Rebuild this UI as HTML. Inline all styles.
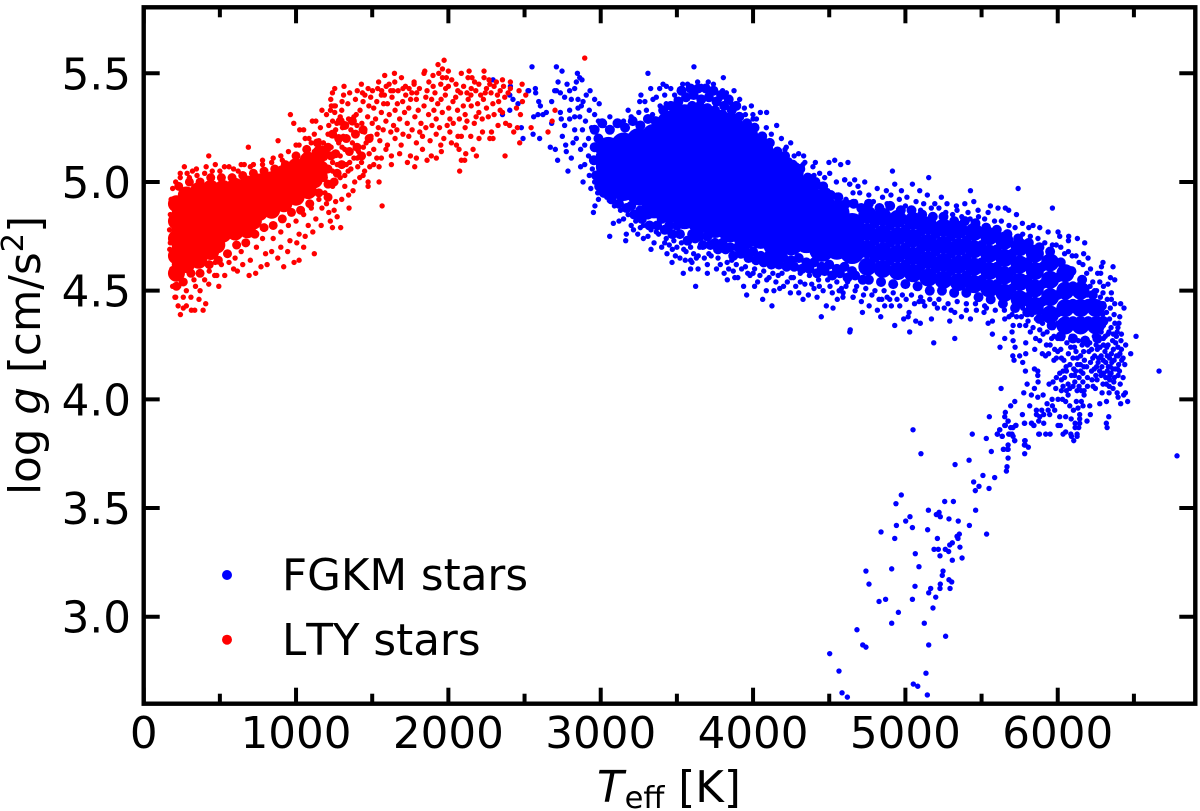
<!DOCTYPE html>
<html lang="en">
<head>
<meta charset="utf-8">
<title>log g vs Teff scatter</title>
<style>
html,body{margin:0;padding:0;background:#fff;}
svg{display:block;}
text{font-family:"DejaVu Sans","Liberation Sans",sans-serif;fill:#000;font-kerning:none;}
</style>
</head>
<body>
<svg id="chart" xmlns="http://www.w3.org/2000/svg" width="1200" height="811" viewBox="0 0 1200 811">
<rect x="0" y="0" width="1200" height="811" fill="#fff"/>
<g id="marks"></g>
<g id="axes"></g>
<text transform="translate(40,495) rotate(-90)" font-size="43.6">log <tspan font-style="italic">g</tspan> [cm/s<tspan font-size="30.5" dy="-17">2</tspan><tspan dy="17">]</tspan></text>
<text x="597" y="802" font-size="43.6"><tspan font-style="italic">T</tspan><tspan font-size="30.5" dy="6" dx="1">eff</tspan><tspan dy="-6"> [K]</tspan></text>
<g>
<circle cx="227" cy="575" r="5" fill="#0000ff"/>
<text x="282" y="590" font-size="43.6">FGKM stars</text>
<circle cx="227" cy="639.7" r="5" fill="#ff0000"/>
<text x="282" y="655" font-size="43.6">LTY stars</text>
</g>
</svg>
<script>
// Tick values
const xMajorTicks = [0,1000,2000,3000,4000,5000,6000];
const xMinorTicks = [500,1500,2500,3500,4500,5500,6500];
const yMajorTicks = [3.0,3.5,4.0,4.5,5.0,5.5];
const yTickLabels = ["3.0","3.5","4.0","4.5","5.0","5.5"];

// FGKM stars as [Teff, log g]
// Densest overplotted regions: each entry stands for a pile of overlapping stars
const fgkmCore = [
[3050,5.15],[3050,5.07],[3050,4.99],
[3150,5.17],[3150,5.09],[3150,5.01],[3150,4.97],
[3250,5.19],[3250,5.11],[3250,5.03],[3250,4.95],
[3350,5.21],[3350,5.13],[3350,5.05],[3350,4.97],[3350,4.89],
[3450,5.27],[3450,5.19],[3450,5.11],[3450,5.03],[3450,4.95],[3450,4.87],
[3550,5.30],[3550,5.22],[3550,5.14],[3550,5.06],[3550,4.98],[3550,4.90],[3550,4.84],
[3650,5.30],[3650,5.22],[3650,5.14],[3650,5.06],[3650,4.98],[3650,4.90],[3650,4.82],
[3750,5.28],[3750,5.20],[3750,5.12],[3750,5.04],[3750,4.96],[3750,4.88],[3750,4.80],
[3850,5.26],[3850,5.18],[3850,5.10],[3850,5.02],[3850,4.94],[3850,4.86],[3850,4.78],
[3950,5.21],[3950,5.13],[3950,5.05],[3950,4.97],[3950,4.89],[3950,4.81],[3950,4.75],
[4050,5.15],[4050,5.07],[4050,4.99],[4050,4.91],[4050,4.83],[4050,4.75],
[4150,5.09],[4150,5.01],[4150,4.93],[4150,4.85],[4150,4.77],[4150,4.71],
[4250,5.04],[4250,4.96],[4250,4.88],[4250,4.80],[4250,4.72],
[4350,4.97],[4350,4.89],[4350,4.81],[4350,4.73],
[4450,4.91],[4450,4.83],[4450,4.75],[4450,4.69],
[4550,4.86],[4550,4.78],[4550,4.70],
[4650,4.80],[4650,4.72],[4650,4.68]
];
const fgkmBand = [
[4750,4.85],[4750,4.77],[4750,4.69],[4750,4.61],
[4850,4.84],[4850,4.76],[4850,4.68],[4850,4.60],
[4950,4.83],[4950,4.75],[4950,4.67],[4950,4.59],
[5050,4.82],[5050,4.74],[5050,4.66],[5050,4.58],
[5150,4.80],[5150,4.72],[5150,4.64],[5150,4.56],
[5250,4.79],[5250,4.71],[5250,4.63],[5250,4.55],
[5350,4.78],[5350,4.70],[5350,4.62],[5350,4.54],
[5450,4.77],[5450,4.69],[5450,4.61],[5450,4.53],
[5550,4.75],[5550,4.67],[5550,4.59],[5550,4.51],
[5650,4.73],[5650,4.65],[5650,4.57],[5650,4.49],
[5750,4.70],[5750,4.62],[5750,4.54],[5750,4.46],
[5850,4.67],[5850,4.59],[5850,4.51],[5850,4.43],
[5950,4.63],[5950,4.55],[5950,4.47],[5950,4.39],
[6050,4.58],[6050,4.50],[6050,4.42],[6050,4.34],
[6150,4.50],[6150,4.42],[6150,4.34],
[6250,4.42],[6250,4.34]
];
// Partly filled clumps at the rim of the dense regions
const fgkmClumps = [
[2960,5.24],[3010,5.27],[3060,5.24],[3110,5.27],[3160,5.25],[3210,5.28],[3260,5.26],[3310,5.29],[3360,5.28],[3410,5.33],[3460,5.35],[3510,5.37],[3560,5.39],[3610,5.40],[3660,5.38],[3710,5.39],[3760,5.37],[3810,5.35],[3860,5.33],[3910,5.30],[3960,5.27],[4010,5.25],[4060,5.21],[4110,5.18],[4160,5.14],[4210,5.12],[4260,5.08],[4310,5.06],[4360,5.02],[4410,5.00],[4460,4.98],[4510,4.94],[4560,4.93],[4610,4.90],[4660,4.90],[4710,4.88],
[2960,5.16],[2955,5.10],[2970,5.03],[2990,4.98],[2985,5.20],[3000,5.12],
[3020,4.95],[3070,4.92],[3120,4.90],[3170,4.88],[3220,4.85],[3270,4.83],[3320,4.80],[3370,4.80],[3420,4.78],[3470,4.76],[3520,4.76],[3570,4.73],[3620,4.74],[3670,4.71],[3720,4.71],[3770,4.69],[3820,4.69],[3870,4.66],[3920,4.67],[3970,4.65],[4020,4.64],[4070,4.63],[4120,4.62],[4170,4.62],[4220,4.61],[4270,4.61],[4320,4.60],[4370,4.60],[4420,4.58],[4470,4.59],[4520,4.57],[4570,4.58],[4620,4.56],[4670,4.57],[4720,4.55],
[4760,4.90],[4830,4.88],[4900,4.89],[4970,4.87],[5040,4.87],[5110,4.85],[5180,4.84],[5250,4.84],[5320,4.82],[5390,4.82],[5460,4.81],[5530,4.79],[5600,4.78],[5670,4.76],[5740,4.74],[5810,4.72],[5880,4.70],[5950,4.68],[6020,4.63],[6090,4.59],[6160,4.55],[6230,4.48],[6290,4.43],
[4800,4.81],[4800,4.73],[4800,4.65],[4900,4.80],[4900,4.72],[4900,4.64],[5000,4.78],[5000,4.70],[5000,4.62],[5100,4.77],[5100,4.69],[5100,4.61],[5200,4.76],[5200,4.68],[5200,4.60],[5300,4.75],[5300,4.67],[5300,4.59],[5400,4.73],[5400,4.65],[5400,4.57],[5500,4.71],[5500,4.63],[5500,4.55],[5600,4.69],[5600,4.61],[5600,4.53],[5700,4.67],[5700,4.59],[5700,4.51],[5800,4.63],[5800,4.55],[5800,4.47],[5900,4.61],[5900,4.53],[5900,4.45],[6000,4.56],[6000,4.48],[6000,4.40],[6100,4.52],[6100,4.44],[6100,4.36],[6200,4.44],[6200,4.36],[6300,4.36],
[4760,4.55],[4840,4.54],[4920,4.53],[5000,4.53],[5080,4.52],[5160,4.50],[5240,4.50],[5320,4.49],[5400,4.49],[5480,4.47],[5560,4.46],[5640,4.44],[5720,4.42],[5800,4.40],[5880,4.37],[5960,4.34],[6020,4.29],[6100,4.28],[6180,4.27],[6260,4.28]
];
const fgkmRimFill = [
[3500,5.33],[3600,5.35],[3650,5.35],[3700,5.34],[3750,5.33],[3800,5.31],[3850,5.30],[3900,5.27],[3950,5.26],[4000,5.22],[4050,5.19],[4100,5.15],[4150,5.12],[4200,5.08],[4250,5.05],[4300,5.02],[4350,4.99],[4400,4.96],[4450,4.93],[4500,4.91],[4550,4.89],[4600,4.86],
[3530,5.42],[3590,5.43],[3640,5.43],[3690,5.43],[3740,5.42],[3790,5.40],[3840,5.38],[3890,5.35],
[3200,4.89],[3260,4.87],[3310,4.85],[3400,4.83],[3450,4.80],[3500,4.80],[3600,4.76],[3650,4.75],[3700,4.75],[3750,4.72],[3800,4.72],[3850,4.70],[3900,4.70],[3950,4.68],[4000,4.68],[4050,4.66],[4100,4.66],[4150,4.64],[4200,4.65],[4250,4.64],[4300,4.65],[4350,4.63],[4400,4.63],[4450,4.61],[4500,4.62],[4550,4.60],[4600,4.61],[4650,4.59]
];
const fgkmLowerFuzz = [
[3150,4.83],[3215,4.78],[3260,4.79],[3310,4.75],[3365,4.77],[3420,4.72],[3450,4.71],[3500,4.70],[3545,4.69],[3610,4.67],[3680,4.65],[3725,4.66],[3785,4.62],[3840,4.60],[3860,4.64],[3925,4.60],[3965,4.58],[4000,4.58],[4045,4.57],[4105,4.56],[4165,4.57],[4225,4.54],[4265,4.56],[4310,4.54],[4385,4.53],[4435,4.52],[4505,4.52],[4565,4.50],[4610,4.52],[4670,4.50],[4725,4.48],[4780,4.48],[4845,4.46],[4880,4.47],[4945,4.46],[5005,4.46],[5060,4.44],[5115,4.45],[5190,4.44],[5255,4.42],[5300,4.41],[3330,4.69],[3490,4.66],[3590,4.64],[3700,4.58],[3880,4.56],[4010,4.52],[4175,4.51],[4300,4.49],[4420,4.47],[4590,4.47]
];
const fgkmGiantBranch = [
[5050,3.86],[5102,3.75],[5326,3.70],[5418,3.72],[5439,3.84],[5531,3.82],[5564,3.76],[5603,3.84],[5636,3.83],[5619,3.86],[5652,3.88],[5674,3.90],[5706,3.87],[5726,3.88],[5678,3.84],[5700,3.84],[5717,3.81],[5674,3.79],[5645,3.77],[5674,3.77],[5674,3.73],[5667,3.69],[5663,3.67],[5783,3.81],[5781,3.79],[5807,3.78],[5783,3.75],[5781,3.89],[5829,3.89],[5844,3.88],[5875,3.84],[5509,3.65],[5586,3.64],[5448,3.62],[5483,3.60],[5459,3.58],[5549,3.59],[4973,3.56],[4938,3.52],[5258,3.53],[5315,3.53],[5151,3.49],[5221,3.48],[5203,3.47],[5229,3.46],[5461,3.49],[5286,3.45],[5347,3.44],[5030,3.46],[5002,3.44],[4941,3.42],[5046,3.41],[4840,3.39],[4930,3.36],[5146,3.40],[5420,3.42],[5533,3.38],[5210,3.36],[5354,3.38],[5339,3.37],[5345,3.36],[5308,3.34],[5291,3.33],[5358,3.32],[5188,3.31],[5216,3.31],[5262,3.31],[5284,3.30],[5065,3.29],[5227,3.28],[5308,3.26],[5372,3.27],[5089,3.23],[4910,3.22],[4741,3.21],[5247,3.21],[5242,3.19],[5286,3.17],[5304,3.16],[4761,3.15],[5229,3.15],[5063,3.14],[5166,3.13],[5227,3.13],[5293,3.13],[5153,3.11],[5199,3.09],[4870,3.08],[4827,3.07],[5046,3.08],[5181,3.04],[4954,3.02],[4910,2.97],[5124,2.97],[4682,2.94],[5264,2.91],[4720,2.87],[4741,2.86],[5153,2.87],[4503,2.83],[4564,2.75],[5135,2.74],[5052,2.69],[5081,2.68],[4584,2.65],[4619,2.63],[5144,2.64]
];
const fgkmSubgiants = [
[6783,3.74],[6665,4.13],[6514,4.29],[6479,4.21],[5740,4.97],[5965,4.88],[5427,4.96],[5153,5.02],[4915,5.05],[4635,4.31],[5186,4.26],[5324,4.28],[5028,4.31],[5628,4.05],[5551,3.92],[5656,3.94],[5652,3.92],[5691,3.97],[5718,3.99],[5674,3.90],[5656,3.88],[5691,3.87],[5724,3.88],[5619,3.86],[5604,3.84],[5635,3.83],[5685,3.84],[5707,3.83],[5718,3.81],[5643,3.77],[5670,3.77],[5786,3.81],[5786,3.79],[5768,3.93],[5783,3.89],[5827,3.89],[5842,3.88],[5816,3.97],[5860,3.95],[5860,3.93],[5895,3.95],[5908,3.93],[5882,3.92],[5875,3.90],[5908,3.89],[5880,3.84],[5921,3.84],[5950,3.84],[5930,3.98],[5965,3.97],[5937,3.95],[5947,3.93],[5980,3.95],[6013,3.92],[6052,3.92],[6088,3.91],[6002,3.88],[6017,3.88],[6035,3.84],[6052,3.85],[6086,3.84],[6090,3.83],[6105,3.81],[6127,3.84],[6127,3.83],[6114,3.89],[6114,3.87],[6144,3.89],[6138,3.87],[6144,3.91],[6144,3.93],[6192,3.90],[6214,3.93],[6319,3.89],[6324,3.87],[6335,3.92],[6079,3.97],[6103,3.95],[6133,3.96],[6166,3.97],[6210,3.97],[6276,3.98],[6320,3.99],[6413,3.98],[6459,3.99],[5963,4.00],[6002,4.00],[6031,4.00],[6052,3.99],[6122,3.99],[6155,3.99],[6127,4.04],[6155,4.04],[6173,4.02],[6173,4.04],[5777,4.03],[5827,4.02],[5847,4.05],[5869,4.01],[5904,4.02],[5871,4.08],[5799,4.07],[5869,4.11],[5869,4.13],[5847,4.14],[5788,4.13],[5943,4.07],[5987,4.05],[5969,4.08],[5991,4.10],[6013,4.12],[6035,4.13],[6057,4.13],[6024,4.09],[6024,4.04],[6035,4.06],[6068,4.07],[6079,4.05],[6057,4.04],[6100,4.06],[6068,4.02],[6232,4.06],[6247,4.05],[6291,4.03],[6337,4.03],[6363,4.05],[6390,4.03],[6396,4.01],[6433,4.02],[6444,4.03],[6429,4.10],[6258,4.09],[6297,4.07],[6319,4.07],[6341,4.09],[6396,4.11]
];
const fgkmTurnoffCluster = [
[6030,4.28],[6060,4.26],[6090,4.29],[6110,4.24],[6135,4.27],[6160,4.25],[6180,4.28],[6210,4.26],[6240,4.29],[6270,4.27],[6300,4.28],[6330,4.30],[6360,4.27],[6390,4.31],
[6070,4.21],[6100,4.19],[6120,4.22],[6150,4.20],[6175,4.18],[6205,4.22],[6230,4.19],[6260,4.23],[6285,4.20],[6310,4.22],[6340,4.19],[6365,4.23],[6395,4.24],[6415,4.27],
[6080,4.16],[6105,4.14],[6130,4.16],[6150,4.13],[6190,4.15],[6215,4.17],[6240,4.14],[6265,4.17],[6290,4.15],[6315,4.17],[6345,4.15],[6370,4.18],[6400,4.16],[6420,4.18],
[6110,4.11],[6140,4.10],[6165,4.12],[6195,4.10],[6250,4.11],[6275,4.13],[6300,4.12],[6325,4.13],[6350,4.12],[6378,4.14],[6405,4.13],
[6330,4.25],[6350,4.33],[6375,4.35],[6340,4.37],[6395,4.33],[6300,4.34],[6320,4.40],[6345,4.42],[6370,4.39],[6300,4.44],[6325,4.46],[6280,4.47],[6300,4.52],[6255,4.50],[6230,4.54],[6262,4.58],[6215,4.60],[6190,4.58],[6165,4.62],[6140,4.63],[6120,4.66],[6095,4.66],[6070,4.68],[6045,4.67],[6020,4.70],[5990,4.71],
[6020,4.23],[6000,4.28],[6040,4.18],[5960,4.28],[5930,4.31],[5970,4.33],[5900,4.35],[5860,4.37],[5830,4.39],[5880,4.40],[5800,4.41],[5770,4.42],[5820,4.43],
[6322,4.24],[6352,4.21],[6380,4.26],[6408,4.21],[6336,4.31],[6365,4.30],[6312,4.29],[6285,4.31],[6255,4.32],[6272,4.37],[6295,4.39],[6248,4.40],[6268,4.43],[6225,4.46],[6242,4.50],[6212,4.52],[6180,4.52],[6192,4.48],
[6085,4.24],[6128,4.19],[6170,4.22],[6195,4.25],[6222,4.23],[6252,4.25],[6278,4.24],[6300,4.25],[6242,4.20],[6268,4.19],[6298,4.18],[6325,4.20],[6355,4.17],[6385,4.20],[6332,4.15],[6362,4.14],[6392,4.14],[6222,4.13],[6255,4.15],[6285,4.11],[6315,4.10],[6342,4.11],[6372,4.10],[6148,4.16],[6172,4.15],[6118,4.13],[6090,4.11],[6112,4.08],[6140,4.06],[6165,4.08],[6195,4.06],[6225,4.09],[6338,4.06],[6368,4.08],[6410,4.07],
[6000,4.35],[6030,4.32],[5975,4.29],[5950,4.25],[6000,4.22],[5940,4.21],[5975,4.18],[5920,4.20],[6055,4.15],[6045,4.10],[5855,4.28],[5820,4.31],[5790,4.34],[5730,4.38],[5680,4.38]
];
const fgkmBandUpper = [
[4602,5.01],[4667,5.01],[4733,5.00],[4635,4.99],[4930,4.99],[5046,4.99],[4875,4.96],[4974,4.96],[5094,4.96],[5144,4.94],[5236,4.93],[5449,4.91],[5390,4.90],[5335,4.89],[5273,4.90],[5193,4.90],[5558,4.89],[5608,4.88],[5656,4.88],[5678,4.87],[5729,4.85],[5543,4.86],[5477,4.87],[5411,4.86],[5339,4.87],[5768,4.81],[5838,4.80],[5810,4.79],[5882,4.79],[5937,4.77],[6002,4.77],[6013,4.75],[6072,4.75],[6129,4.74],[6070,4.73],[6177,4.72],[6170,4.67],[6199,4.65],[6297,4.63],[6287,4.61],[6363,4.61],[6282,4.58],[6346,4.56],[6374,4.55],[6330,4.53],[6276,4.54],[6352,4.49],[6297,4.49],[6413,4.44],[6435,4.42],[6352,4.46],[6374,4.44],[6407,4.38],[6402,4.35],[6418,4.30],[6385,4.29],[6446,4.25],[6418,4.23],[6440,4.16],[6429,4.19],[6396,4.20],
[4700,4.95],[4760,4.94],[4815,4.97],[4850,4.93],[4905,4.94],[4960,4.92],[5010,4.93],[5070,4.91],[5120,4.90],[5170,4.88],[5220,4.88],[5265,4.86],[5310,4.85],[5370,4.84],[5425,4.83],[5480,4.84],[5520,4.83],[5585,4.82],[5630,4.82],[5680,4.80],[5720,4.79],[5770,4.76],[5820,4.75],[5870,4.74],[5915,4.72],[5965,4.71],[4790,4.91],[4880,4.90],[5000,4.89],[5100,4.87]
];
const fgkmBandLower = [
[4591,4.49],[4657,4.47],[4711,4.45],[4718,4.40],[4762,4.43],[4816,4.41],[4838,4.38],[4827,4.46],[4897,4.46],[4864,4.43],[4908,4.43],[4930,4.34],[4989,4.37],[5024,4.40],[5018,4.38],[5068,4.36],[5098,4.35],[4963,4.43],[5090,4.45],[5127,4.43],[5171,4.37],[5210,4.42],[5291,4.36],[5324,4.40],[5368,4.38],[5427,4.37],[5400,4.41],[5466,4.41],[5532,4.42],[5516,4.40],[5543,4.35],[5571,4.36],[5571,4.30],[5652,4.37],[5652,4.28],[5621,4.24],[5707,4.27],[5700,4.31],[5720,4.24],[5705,4.20],[5750,4.20],[5713,4.18],[5770,4.17],[5790,4.21],[5899,4.21],[5849,4.23],[5790,4.26],[5882,4.27],[5707,4.34],[5750,4.34],[5761,4.38],[5805,4.36],[5838,4.33],[5882,4.32],[5904,4.30],[5926,4.25],[5980,4.23],[5991,4.19],[6024,4.19],
[4620,4.54],[4680,4.52],[4740,4.51],[4800,4.50],[4860,4.50],[4920,4.49],[4980,4.48],[5040,4.48],[5100,4.47],[5160,4.46],[5220,4.46],[5280,4.44],[5340,4.45],[5400,4.44],[5460,4.44],[5520,4.43],[5590,4.41],[5650,4.41],[5700,4.39]
];
const fgkmCoreEdge = [
[2549,5.53],[2709,5.53],[2746,5.51],[2847,5.50],[2862,5.48],[2840,5.46],[2877,5.47],[2720,5.46],[2779,5.45],[2523,5.42],[2571,5.43],[2573,5.41],[2593,5.37],[2604,5.35],[2678,5.37],[2643,5.32],[2621,5.31],[2588,5.31],[2560,5.30],[2709,5.42],[2698,5.42],[2735,5.41],[2796,5.42],[2829,5.43],[2763,5.39],[2807,5.38],[2851,5.38],[2884,5.37],[2735,5.32],[2796,5.33],[2851,5.34],[2873,5.35],[2741,5.29],[2796,5.29],[2829,5.30],[2862,5.30],[2763,5.26],[2748,5.21],[2829,5.24],[2840,5.20],[2770,5.17],[2774,5.14],[2818,5.18],[2868,5.15],[2669,5.16],[2702,5.15],[2717,5.10],[2807,5.11],[2785,5.05],[2868,5.07],[2895,5.08],[2884,5.00],[2479,5.25],[2556,5.22],[2599,5.20],[2490,5.20],[2678,5.27],[2293,5.47],[2407,5.44],[2424,5.38],[2403,5.40],[2457,5.36],[2355,5.31],[2403,5.33],[2527,5.42],
[2930,5.42],[2960,5.38],[2905,5.40],[2990,5.36],[2925,5.33],[2960,5.31],[2900,5.28],[2940,5.25],[2985,5.28],[2880,5.24],[2920,5.20],[2960,5.17],[2895,5.17],[2920,5.12],[2945,5.06],[2960,5.00],[2925,5.03],[2980,4.95],[2985,4.92],[2935,4.97],
[2962,4.89],[2952,4.86],[3083,4.81],[3059,4.75],[3168,4.76],[3164,4.73],[3243,4.76],[3435,4.67],[3468,4.63],[3520,4.65],[3555,4.64],[3599,4.63],[3628,4.65],[3639,4.60],[3542,4.58],[3590,4.60],[3623,4.52],[3831,4.55],[3938,4.52],[3958,4.48],[4063,4.46],[4124,4.43],[4137,4.50],[4087,4.50],[4245,4.49],[4328,4.46],[4363,4.48],[4448,4.38],[4481,4.43],[4525,4.42],[4553,4.46],[4656,4.47],[4638,4.32],
[3612,5.53],[3310,5.50],[3805,5.48],[3636,5.46],[3706,5.46],[3538,5.45],[3584,5.44],[3409,5.45],[3431,5.44],[3387,5.43],[3328,5.43],[3264,5.40],[3365,5.39],[3256,5.37],[3343,5.38],[3485,5.40],[3496,5.38],[3540,5.42],[3752,5.42],[3825,5.41],[3875,5.42],[3912,5.38],[3857,5.36],[3781,5.38],[3943,5.34],[3989,5.35],[4048,5.32],[4089,5.32],[3999,5.31],[4022,5.29],[4155,5.26],[4087,5.25],[4186,5.20],[4247,5.18],[4218,5.16],[4299,5.13],[4332,5.12],[4328,5.08],[4409,5.09],[4393,5.07],[4498,5.09],[4536,5.10],[4575,5.08],[4623,5.09],[4354,5.03],[4437,5.04],[4503,5.04],[4547,5.00],[4601,5.01],[4634,4.99],[4689,4.98],[4656,4.95],
[3060,5.30],[3100,5.27],[3020,5.26],[3150,5.28],[3200,5.30],[3250,5.32],[3300,5.33],[3340,5.31],[3390,5.35],[3430,5.36],[3470,5.33],
[3000,4.99],[3040,4.93],[3090,4.89],[3130,4.87],[3180,4.85],[3230,4.82],[3280,4.80],[3330,4.78],[3380,4.76],[3430,4.74],[3480,4.73],[3530,4.72],[3590,4.70],[3650,4.70],[3710,4.67],[3770,4.65],[3830,4.63],[3890,4.62],[3950,4.61],[4010,4.60],[4070,4.59],[4130,4.58],[4190,4.58],[4250,4.56],[4310,4.58],[4370,4.57],[4430,4.55],[4490,4.55],[4550,4.54],
[4180,5.12],[4240,5.10],[4300,5.07],[4360,4.99],[4430,4.98],[4490,4.96],[4550,4.94],[4610,4.92],[4670,4.91],
[3120,4.82],[3200,4.80],[3280,4.74],[3350,4.72],[3400,4.70],[3470,4.69],[3560,4.68],[3640,4.66],[3700,4.62],[3760,4.60],[3810,4.58],[3870,4.59],[3900,4.56],[3980,4.57],[4030,4.54],[4090,4.55],[4150,4.54],[4200,4.52],[4280,4.52],[4340,4.53],[4400,4.51],[4460,4.50],[4520,4.49],[4580,4.51],
[3180,5.33],[3290,5.37],[3420,5.40],[3460,5.43],[3570,5.45],[3660,5.44],[3740,5.45],[3800,5.42],[3950,5.31],[4000,5.29],[4120,5.22],[4210,5.15],[4270,5.12],[4340,5.09],[4400,5.03],[4470,5.02]
];

// LTY stars as [Teff, log g]
const ltyCore = [
[215,4.90],[215,4.82],[215,4.74],[215,4.66],[215,4.58],
[280,4.94],[280,4.86],[280,4.78],[280,4.70],[280,4.62],
[360,4.96],[360,4.88],[360,4.80],[360,4.72],[360,4.64],
[440,4.97],[440,4.90],[440,4.82],[440,4.74],[440,4.68],
[520,4.97],[520,4.90],[520,4.83],[520,4.76],
[600,4.98],[600,4.91],[600,4.84],[600,4.77],
[680,4.99],[680,4.92],[680,4.85],[680,4.78],
[760,5.00],[760,4.93],[760,4.86],
[840,5.01],[840,4.94],[840,4.87],
[920,5.04],[920,4.97],[920,4.90],
[1000,5.07],[1000,5.00],[1000,4.93],
[1080,5.10],[1080,5.03],[1080,4.96],
[1160,5.13],[1160,5.06],
[240,4.86],[240,4.78],[240,4.70],[240,4.62],[320,4.90],[320,4.82],[320,4.74],[320,4.66],[400,4.92],[400,4.84],[400,4.76],[400,4.68],[480,4.93],[480,4.86],[480,4.78],[480,4.71],[560,4.94],[560,4.87],[560,4.80],[640,4.95],[640,4.88],[640,4.81],[720,4.96],[720,4.89],[720,4.82],[800,4.97],[800,4.90],[880,5.00],[880,4.93],[960,5.02],[960,4.95],[1040,5.05],[1040,4.98],[1120,5.08],[1120,5.01]
];
const ltyClumps = [
[230,4.98],[300,5.00],[370,5.00],[440,5.02],[510,5.02],[580,5.02],[650,5.03],[720,5.04],[790,5.05],[860,5.06],[930,5.08],[1000,5.12],[1070,5.15],[1140,5.18],[1210,5.16],
[215,4.52],[260,4.54],[310,4.58],[370,4.58],[430,4.62],[490,4.64],[550,4.67],[610,4.71],[670,4.72],[730,4.76],[790,4.79],[850,4.80],[910,4.83],[970,4.86],[1030,4.87],[1090,4.90],[1150,4.95],[1210,4.99],[1270,5.04],
[1230,5.12],[1280,5.20],[1300,5.08],[1350,5.14],[1390,5.22],[1240,5.22],[1320,5.26],
[1210,5.06],[1260,5.13],[1180,5.02],[1330,5.20],[1400,5.16],[1440,5.24],[1370,5.28],[1290,5.28],[1480,5.20],[1430,5.12],[1210,4.93],[1250,5.00]
];
const ltyEdge = [
[2895,5.57],[1972,5.56],[1932,5.54],[1961,5.52],[2000,5.51],[1845,5.51],[1840,5.50],[1899,5.49],[1937,5.50],[1961,5.48],[1987,5.48],[2085,5.50],[2136,5.51],[2234,5.51],[2234,5.48],[2129,5.48],[2155,5.48],[2355,5.47],[2315,5.46],[2267,5.47],[1646,5.50],[1582,5.49],[1692,5.48],[1648,5.46],[1611,5.45],[1775,5.46],[1775,5.45],[1718,5.44],[1702,5.43],[1429,5.45],[1473,5.43],[1436,5.41],[1536,5.43],[1562,5.42],[1560,5.40],[1637,5.42],[1315,5.44],[1254,5.43],[1239,5.41],[1228,5.38],[1302,5.37],[1232,5.35],[1258,5.35],[1226,5.33],[1254,5.32],[963,5.31],[985,5.27],[1107,5.28],[1024,5.24],[882,5.19],[687,5.16],[427,5.12],[267,5.07],[346,5.06],[285,5.04],[1565,4.89],[1545,5.00],[1293,4.79],[1239,4.79],[1348,4.88],[1250,4.87],[1120,4.67],[1020,4.64],[987,4.63],[919,4.61],[735,4.58],[692,4.57],[615,4.59],[532,4.57],[241,4.39],[390,4.41],[407,4.44],[313,4.41],[335,4.41],[226,4.43],[280,4.43],[363,4.46],[493,4.52],[427,4.53],[466,4.57],[171,4.69],[182,4.66],[2074,5.05],[2372,5.12],[2184,5.12],[2162,5.15],[2085,5.10],[2107,5.10],[2114,5.13],[2468,5.18],[2429,5.23],[2453,5.25],[2543,5.25],[2654,5.23],[2681,5.28],[2700,5.33],[2484,5.45],[2407,5.46],[2407,5.43],[2464,5.42],[2508,5.40],[2486,5.37],[2447,5.34],[2473,5.31],[2355,5.32],[2376,5.27],[2402,5.26],[2326,5.26],[2283,5.23],[2293,5.20],[2272,5.20],[2201,5.20],[2224,5.23],[2147,5.21],[2063,5.21],[2085,5.21],[2053,5.17],[2070,5.15],[1954,5.14],[1921,5.11],[1888,5.12],[1860,5.10],[1790,5.11],[1779,5.07],[1731,5.09],[1751,5.12],[1626,5.08],[1545,5.07],[1560,5.11],[1626,5.12],[1484,5.07],[1440,5.03],[1385,5.00],[1418,5.02],[1473,5.00],[1473,4.98],[1374,4.96],[1342,5.05]
];
const ltyUpperArc = [
[1240,5.28],[1290,5.30],[1330,5.26],[1380,5.30],[1420,5.33],[1470,5.30],[1510,5.34],[1560,5.32],[1600,5.36],[1650,5.33],[1700,5.37],[1740,5.34],[1790,5.38],[1840,5.35],[1890,5.38],[1930,5.36],[1980,5.40],[2030,5.37],[2080,5.41],[2130,5.38],[2180,5.42],[2230,5.38],[2280,5.41],[2330,5.37],[2370,5.39],
[1210,5.22],[1260,5.24],[1310,5.21],[1360,5.24],[1400,5.26],[1450,5.23],[1500,5.27],[1540,5.25],[1590,5.28],[1640,5.26],[1680,5.29],[1730,5.27],[1780,5.30],[1820,5.27],[1870,5.31],[1920,5.29],[1960,5.32],[2010,5.29],[2060,5.33],[2110,5.31],[2150,5.35],[2200,5.32],[2250,5.34],[2300,5.31],[2340,5.33],
[1180,5.18],[1230,5.16],[1280,5.18],[1320,5.15],[1370,5.18],[1410,5.14],[1460,5.18],[1510,5.15],[1550,5.19],[1600,5.17],[1650,5.20],[1690,5.17],[1740,5.21],[1790,5.18],[1830,5.21],[1880,5.19],[1920,5.22],[1970,5.20],[2010,5.23],[2110,5.25],[2170,5.27],
[1150,5.19],[1120,5.22],[1160,5.25],[1200,5.31],[1250,5.35],[1300,5.33],[1340,5.36],[1390,5.38],[1440,5.37],[1490,5.39],[1530,5.37],[1580,5.40],[1630,5.39],[1670,5.42],[1720,5.40],[1760,5.41],[1810,5.43],[1860,5.42],[1900,5.44],[1950,5.45],[2000,5.44],[2050,5.45],[2100,5.44],[2150,5.43],[2200,5.45],[2250,5.43],[2300,5.44],[2340,5.42],
[1190,5.11],[1240,5.09],[1290,5.12],[1330,5.08],[1380,5.11],[1430,5.09],[1480,5.13],[1530,5.11],[1590,5.15],[1680,5.13],[1830,5.15],[1950,5.17],[2020,5.18],
[1190,5.03],[1240,5.05],[1290,5.02],[1320,4.98],[1240,4.98],[1190,4.95],[1150,4.92],[1200,4.90],[1100,4.88],[1050,4.85],[1130,4.83],[1080,4.80],[1000,4.82],[950,4.80],[1020,4.76],[960,4.73],[900,4.77],[850,4.74],[900,4.70],[840,4.68],[780,4.74],[800,4.67],[740,4.70],[700,4.64],[640,4.68],[600,4.65],[560,4.63],[510,4.62],[470,4.63],[400,4.55],[340,4.52],[280,4.50],[230,4.52],[260,4.47],
[1215,5.26],[1268,5.27],[1305,5.25],[1345,5.29],[1395,5.31],[1432,5.27],[1478,5.35],[1522,5.29],[1575,5.36],[1612,5.31],[1665,5.36],[1712,5.32],[1752,5.38],[1802,5.33],[1852,5.39],[1905,5.33],[1952,5.38],[2002,5.34],[2048,5.39],[2098,5.35],[2148,5.40],[2192,5.36],[2242,5.41],[2292,5.36],
[1172,5.14],[1212,5.13],[1262,5.13],[1302,5.16],[1352,5.09],[1402,5.11],[1442,5.16],[1492,5.21],[1532,5.22],[1572,5.24],[1622,5.23],[1662,5.24],[1702,5.22],[1762,5.24],[1812,5.23],[1852,5.25],[1892,5.26],[1942,5.25],[1992,5.26],[2032,5.27],[2072,5.29],[2122,5.28],[2182,5.30],[2222,5.29],[2262,5.30],
[1312,5.40],[1352,5.41],[1402,5.42],[1452,5.40],[1502,5.42],[1542,5.46],[1592,5.44],[1622,5.42],[1742,5.43],[1792,5.41],[1872,5.46],[1912,5.41],[1982,5.43],[2022,5.47],[2062,5.42],[2122,5.41],[2172,5.46],[2212,5.40],[2272,5.45],[2322,5.40],[2362,5.44],[2392,5.41],
[1120,5.14],[1090,5.12],[1140,5.10],[1070,5.08],[1220,5.06],[1270,5.08],[1320,5.03],[1360,5.06],[1405,5.07],[1450,5.05],[1510,5.08],[1345,4.94],[1300,4.92],[1260,4.91],[1215,4.86],[1170,4.88],[1270,4.84],[1225,4.82],[1165,4.80],[1110,4.77],[1060,4.75],[1005,4.72],[1050,4.70],[945,4.68],[880,4.65],[810,4.62],[770,4.61],[650,4.62],[590,4.60],[480,4.57],[430,4.59],[370,4.50],[310,4.47],[260,4.42],[210,4.47],[330,4.55],
[910,5.10],[840,5.09],[780,5.08],[700,5.07],[640,5.08],[590,5.06],[530,5.07],[470,5.08],[410,5.07],[320,5.05],[240,5.04],[1000,5.17],[1050,5.24],[1085,5.20],[1130,5.28],[1170,5.33]
];
const ltyLeftEdge = [
[170,4.78],[175,4.85],[180,4.92],[190,4.97],[210,5.00],[240,5.02],[300,5.02],[350,5.03],[400,5.04],[450,5.05],[500,5.05],[560,5.07],[620,5.05],[660,5.08],[720,5.08],[780,5.10],[850,5.11],[900,5.12],[950,5.14],[1020,5.17],[1060,5.20],[1100,5.18],[185,4.60],[190,4.52],[205,4.47],[175,4.72]
];

// Axis scale functions
const xLeft = 143.7, xPerKelvin = 0.15234;
const yAtTop = 73.3, yTopValue = 5.5, yPerDex = 217.36;
const frameLeft = 143.7, frameRight = 1195.3, frameTop = 7.3, frameBottom = 703.7;
function xScale(t){ return xLeft + t * xPerKelvin; }
function yScale(g){ return yAtTop + (yTopValue - g) * yPerDex; }

const svgNS = 'http://www.w3.org/2000/svg';
const marksGroup = document.getElementById('marks');
const axesGroup = document.getElementById('axes');

function drawSeries(points, color, radius, name){
  points.forEach(function(p){
    const c = document.createElementNS(svgNS, 'circle');
    c.setAttribute('cx', xScale(p[0]).toFixed(2));
    c.setAttribute('cy', yScale(p[1]).toFixed(2));
    c.setAttribute('r', radius);
    c.setAttribute('fill', color);
    
    
    marksGroup.appendChild(c);
  });
}
const starRadius = 2.7;
drawSeries(fgkmCore, '#0000ff', 12.5, 'fgkm-dense-core-mark');
drawSeries(fgkmBand, '#0000ff', 9, 'fgkm-dense-band-mark');
drawSeries(fgkmClumps, '#0000ff', 5, 'fgkm-clump-mark');
drawSeries(fgkmRimFill, '#0000ff', 5, 'fgkm-clump-mark');
drawSeries(fgkmLowerFuzz, '#0000ff', starRadius, 'fgkm-star-point');
drawSeries(fgkmGiantBranch, '#0000ff', starRadius, 'fgkm-star-point');
drawSeries(fgkmSubgiants, '#0000ff', starRadius, 'fgkm-star-point');
drawSeries(fgkmTurnoffCluster, '#0000ff', starRadius, 'fgkm-star-point');
drawSeries(fgkmBandUpper, '#0000ff', starRadius, 'fgkm-star-point');
drawSeries(fgkmBandLower, '#0000ff', starRadius, 'fgkm-star-point');
drawSeries(fgkmCoreEdge, '#0000ff', starRadius, 'fgkm-star-point');
drawSeries(ltyCore, '#ff0000', 8.5, 'lty-dense-core-mark');
drawSeries(ltyClumps, '#ff0000', 4.5, 'lty-clump-mark');
drawSeries(ltyEdge, '#ff0000', starRadius, 'lty-star-point');
drawSeries(ltyUpperArc, '#ff0000', starRadius, 'lty-star-point');
drawSeries(ltyLeftEdge, '#ff0000', starRadius, 'lty-star-point');

function addLine(x1, y1, x2, y2, width, name){
  const l = document.createElementNS(svgNS, 'line');
  l.setAttribute('x1', x1);
  l.setAttribute('y1', y1);
  l.setAttribute('x2', x2);
  l.setAttribute('y2', y2);
  l.setAttribute('stroke', '#000');
  l.setAttribute('stroke-width', width);
  
  
  axesGroup.appendChild(l);
}
function addText(x, y, anchor, str, name){
  const t = document.createElementNS(svgNS, 'text');
  t.setAttribute('x', x);
  t.setAttribute('y', y);
  t.setAttribute('text-anchor', anchor);
  t.setAttribute('font-size', '43.6');
  
  
  t.textContent = str;
  axesGroup.appendChild(t);
}

xMajorTicks.forEach(function(v){
  const x = xScale(v);
  addLine(x, frameBottom, x, frameBottom - 16, 4, 'x-major-tick');
  addLine(x, frameTop, x, frameTop + 16, 4, 'x-major-tick-top');
  addText(x, 748, 'middle', String(v), 'x-tick-label');
});
xMinorTicks.forEach(function(v){
  const x = xScale(v);
  addLine(x, frameBottom, x, frameBottom - 10, 4, 'x-minor-tick');
  addLine(x, frameTop, x, frameTop + 10, 4, 'x-minor-tick-top');
});
yMajorTicks.forEach(function(v, i){
  const y = yScale(v);
  addLine(frameLeft, y, frameLeft + 16, y, 4, 'y-major-tick');
  addLine(frameRight, y, frameRight - 16, y, 4, 'y-major-tick-right');
  addText(131, y + 16, 'end', yTickLabels[i], 'y-tick-label');
});

const frame = document.createElementNS(svgNS, 'rect');
frame.setAttribute('x', frameLeft);
frame.setAttribute('y', frameTop);
frame.setAttribute('width', frameRight - frameLeft);
frame.setAttribute('height', frameBottom - frameTop);
frame.setAttribute('fill', 'none');
frame.setAttribute('stroke', '#000');
frame.setAttribute('stroke-width', '4.4');


axesGroup.appendChild(frame);
</script>
</body>
</html>
